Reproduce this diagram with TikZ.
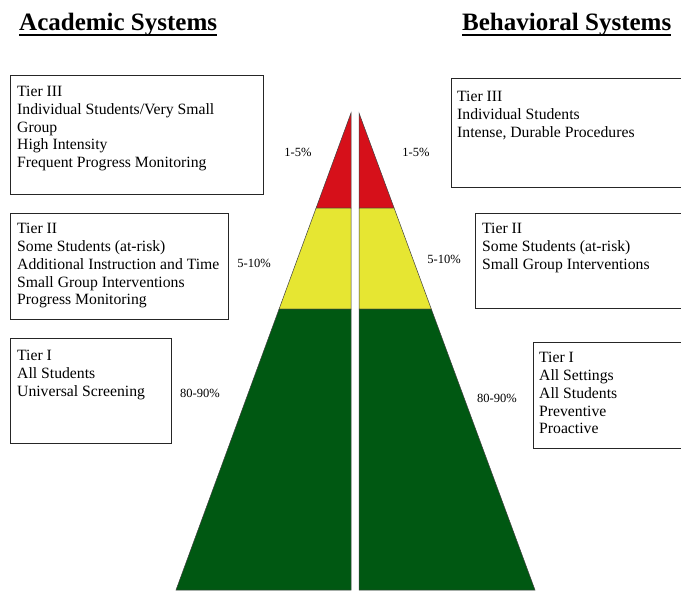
\documentclass[tikz,border=0pt]{standalone}
\usepackage{fontspec}
\setmainfont{Liberation Serif}
\begin{document}
\begin{tikzpicture}[x=1pt,y=-1pt,
  tierbox/.style={draw=black!85,line width=1.1pt,anchor=north west,inner sep=0pt,rectangle},
  tiertext/.style={anchor=north west,inner sep=0pt,align=left,font=\fontsize{15.7}{17.8}\selectfont},
  pct/.style={inner sep=0pt,font=\fontsize{12.5}{14}\selectfont},
  title/.style={inner sep=0pt,anchor=base west,font=\fontsize{25}{28}\selectfont\bfseries},
  half/.style={draw=black!75,line width=0.5pt}]
\useasboundingbox (0,0) rectangle (681,590);
\definecolor{tred}{RGB}{214,16,26}
\definecolor{tyellow}{RGB}{230,230,50}
\definecolor{tgreen}{RGB}{0,88,18}
% pyramid coordinates
\coordinate (LA) at (351,113);
\coordinate (LR) at (316.1,208);
\coordinate (LY) at (279.1,309);
\coordinate (LB) at (176,590);
\coordinate (LRi) at (351,208);
\coordinate (LYi) at (351,309);
\coordinate (LBi) at (351,590);
\coordinate (RA) at (359,113);
\coordinate (RR) at (394.1,208);
\coordinate (RY) at (431.3,309);
\coordinate (RB) at (535,590);
\coordinate (RRi) at (359,208);
\coordinate (RYi) at (359,309);
\coordinate (RBi) at (359,590);
\begin{scope}
\clip (0,0) rectangle (681,590);
\filldraw[half,fill=tred] (LA) -- (LR) -- (LRi) -- cycle;
\filldraw[half,fill=tyellow] (LR) -- (LY) -- (LYi) -- (LRi) -- cycle;
\filldraw[half,fill=tgreen] (LY) -- (LB) -- (LBi) -- (LYi) -- cycle;
\filldraw[half,fill=tred] (RA) -- (RR) -- (RRi) -- cycle;
\filldraw[half,fill=tyellow] (RR) -- (RY) -- (RYi) -- (RRi) -- cycle;
\filldraw[half,fill=tgreen] (RY) -- (RB) -- (RBi) -- (RYi) -- cycle;
% right boxes run off the page edge
\node[tierbox,minimum width=236pt,minimum height=109pt] (R3) at (451,78) {};
\node[tierbox,minimum width=212pt,minimum height=95pt] (R2) at (475,213) {};
\node[tierbox,minimum width=154pt,minimum height=106pt] (R1) at (533,342) {};
\end{scope}
% titles
\node[title] (tA) at (19,30) {Academic Systems};
\node[title] (tB) at (462,30) {Behavioral Systems};
\draw[line width=2pt] ([yshift=-4.5pt]tA.base west) -- ([yshift=-4.5pt]tA.base east);
\draw[line width=2pt] ([yshift=-4.5pt]tB.base west) -- ([yshift=-4.5pt]tB.base east);
% left boxes
\node[tierbox,minimum width=253pt,minimum height=119pt] (L3) at (10,75) {};
\node[tiertext] (L3t) at ([shift={(7,11)}]L3.north west) {Tier III\\Individual Students/Very Small\\Group\\High Intensity\\Frequent Progress Monitoring};
\node[tierbox,minimum width=218pt,minimum height=106pt] (L2) at (10,213) {};
\node[tiertext] (L2t) at ([shift={(7,10)}]L2.north west) {Tier II\\Some Students (at-risk)\\Additional Instruction and Time\\Small Group Interventions\\Progress Monitoring};
\node[tierbox,minimum width=161pt,minimum height=105pt] (L1) at (10,338) {};
\node[tiertext] (L1t) at ([shift={(7,12)}]L1.north west) {Tier I\\All Students\\Universal Screening};
% right box texts
\node[tiertext] (R3t) at ([shift={(6,13)}]R3.north west) {Tier III\\Individual Students\\Intense, Durable Procedures};
\node[tiertext] (R2t) at ([shift={(7,10)}]R2.north west) {Tier II\\Some Students (at-risk)\\Small Group Interventions};
\node[tiertext] (R1t) at ([shift={(6,10)}]R1.north west) {Tier I\\All Settings\\All Students\\Preventive\\Proactive};
% percentages
\node[pct] (p3l) at (298,152) {1-5\%};
\node[pct] (p3r) at (416,152) {1-5\%};
\node[pct] (p2l) at (254,263) {5-10\%};
\node[pct] (p2r) at (444,259) {5-10\%};
\node[pct] (p1l) at (200,393) {80-90\%};
\node[pct] (p1r) at (497,398) {80-90\%};
\end{tikzpicture}
\end{document}
